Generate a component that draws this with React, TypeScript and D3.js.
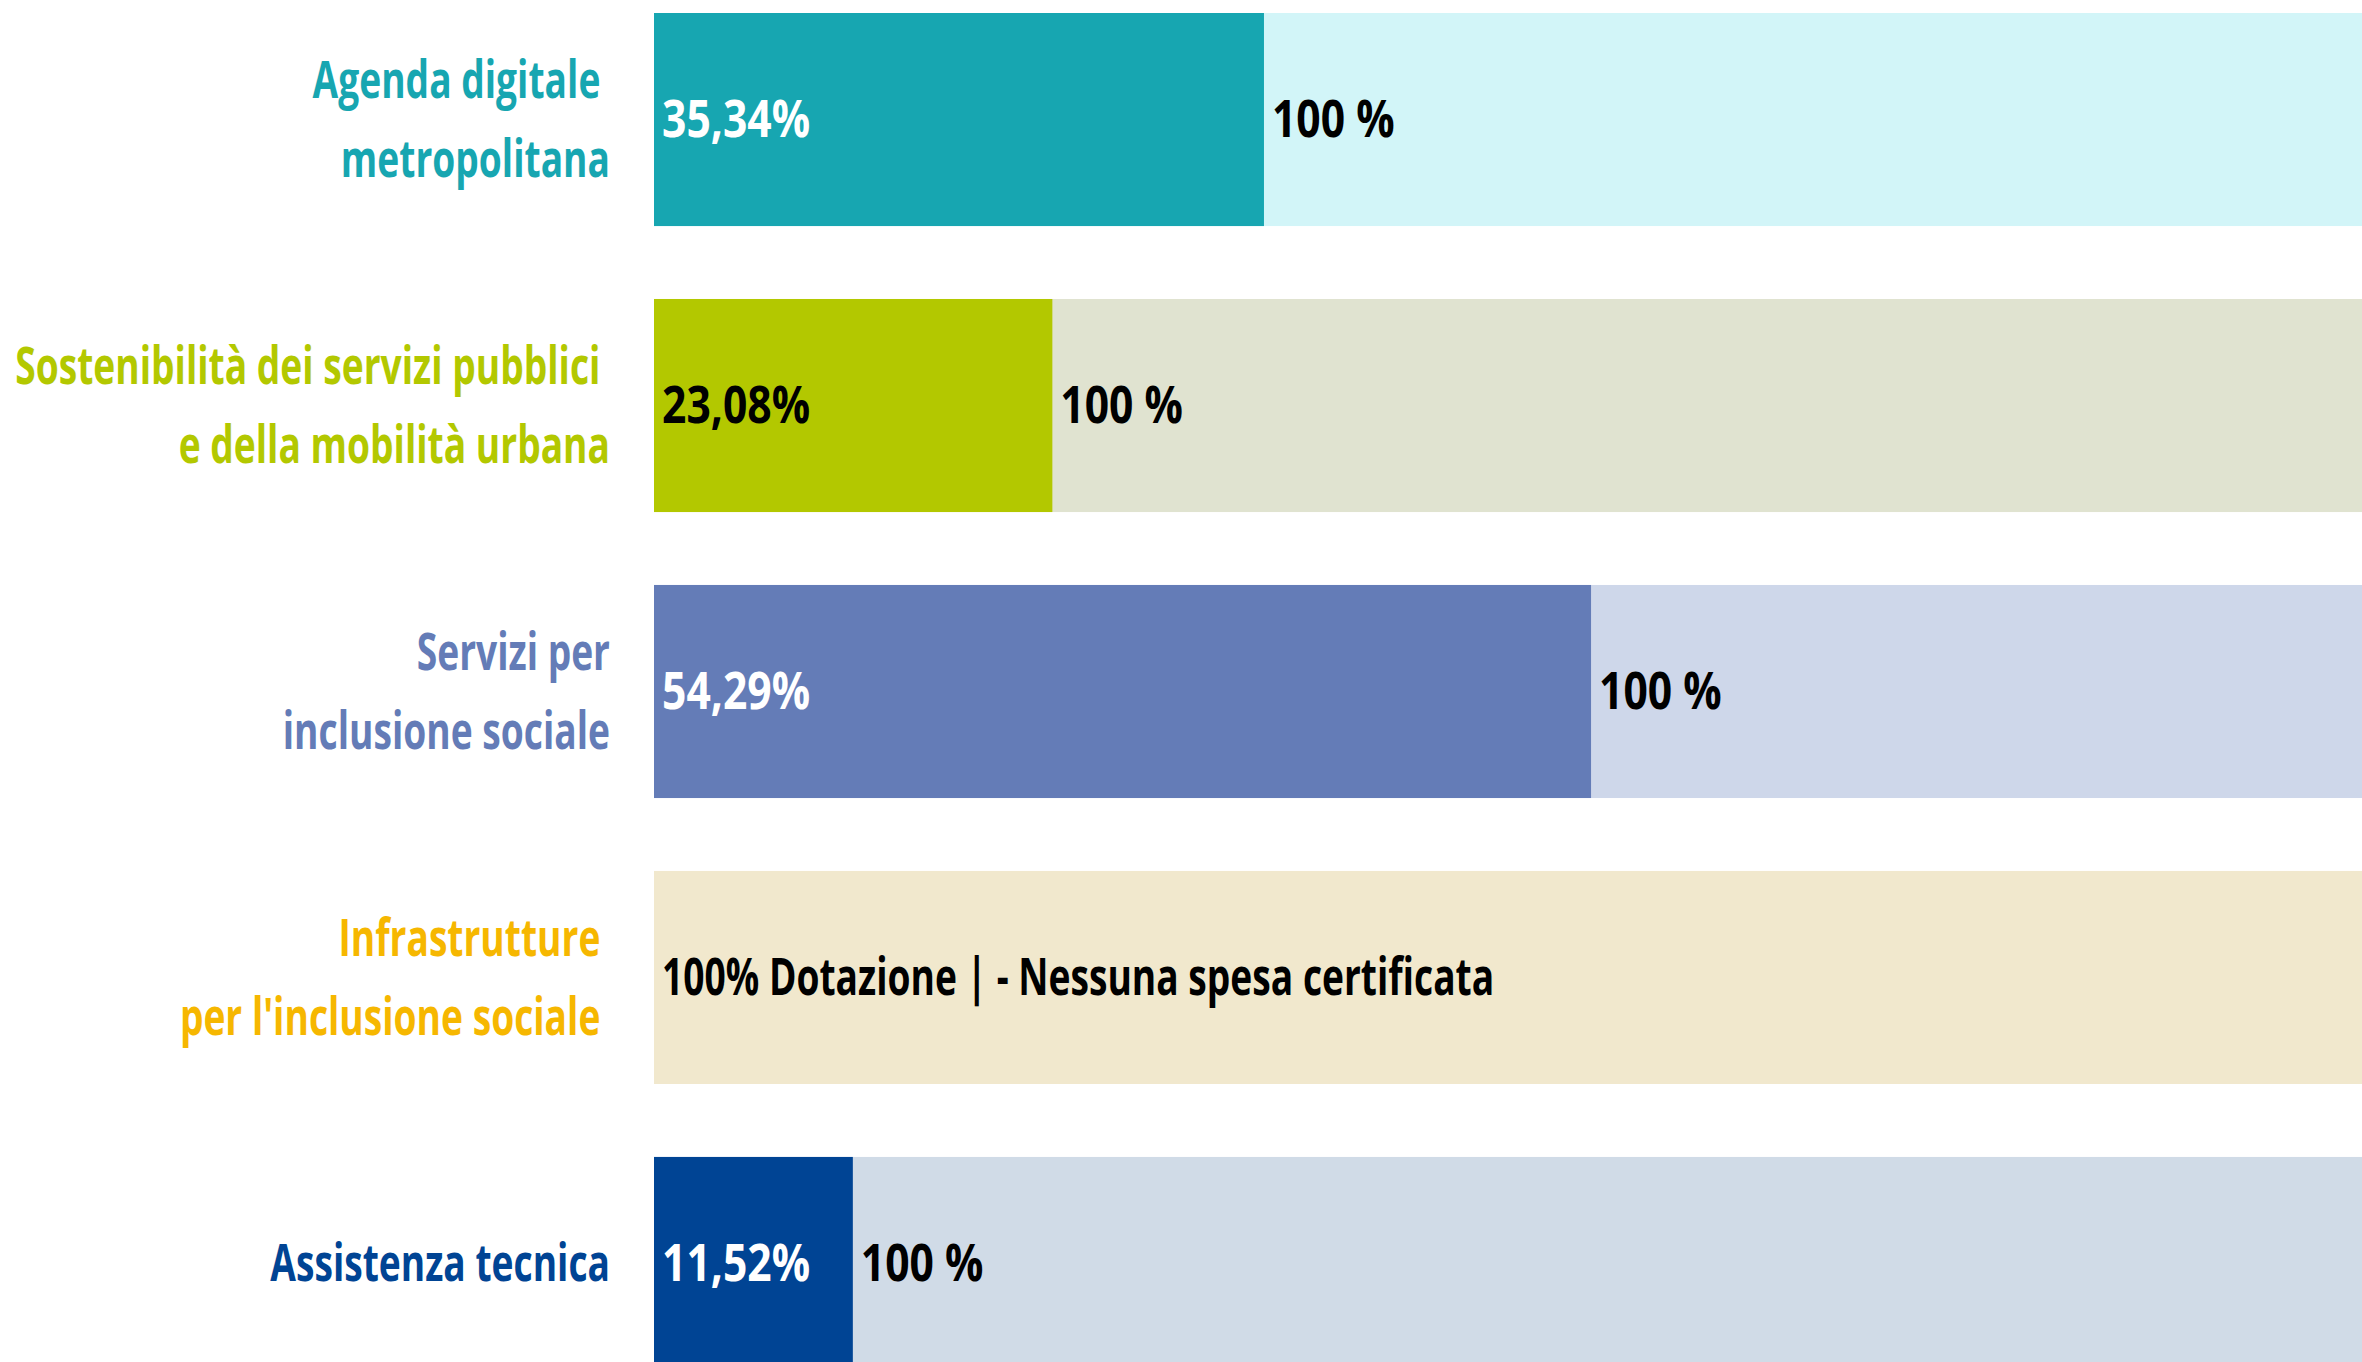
import React from "react";
import * as d3 from "d3";

const categories = [
  "Agenda digitale",
  "Sostenibilità",
  "Servizi inclusione",
  "Infrastrutture inclusione",
  "Assistenza tecnica",
];
const labelLines: string[][] = [
  ["Agenda digitale ", "metropolitana"],
  ["Sostenibilità dei servizi pubblici ", "e della mobilità urbana"],
  ["Servizi per", "inclusione sociale"],
  ["Infrastrutture ", "per l'inclusione sociale "],
  ["Assistenza tecnica"],
];
const spent = [35.34, 23.08, 54.29, 0, 11.52];
const spentLabels = ["35,34%", "23,08%", "54,29%", "", "11,52%"];
const totalLabels = ["100 %", "100 %", "100 %", "100% Dotazione | - Nessuna spesa certificata", "100 %"];
const fillColors = ["#17a6b1", "#b3c800", "#647cb7", "#f5b400", "#004494"];
const bgColors = ["#d2f5f8", "#e0e3d0", "#ced7ea", "#f1e8cd", "#d0dbe7"];
const labelColors = ["#17a6b1", "#b3c800", "#647cb7", "#f6b700", "#004494"];
const spentTextColors = ["#ffffff", "#000000", "#ffffff", "#000000", "#ffffff"];

const W = 2362;
const H = 1362;
const FONT = "'Open Sans', 'DejaVu Sans', sans-serif";

function T(props: {
  x: number;
  y: number;
  fill: string;
  anchor?: string;
  children: string;
}) {
  const numeric = /^[\d,\s%]+$/.test(props.children);
  const sx = numeric ? 0.82 : 0.715;
  return (
    <g transform={`translate(${props.x},${props.y}) scale(${sx},1)`}>
      <text
        x={0}
        y={0}
        dy="0.34em"
        textAnchor={props.anchor || "start"}
        fontSize={52}
        fill={props.fill}
        style={{ whiteSpace: "pre" }}
      >
        {props.children}
      </text>
    </g>
  );
}

export default function App() {
  const x = d3.scaleLinear().domain([0, 100]).range([654, 2380]);
  const y = d3
    .scaleBand<string>()
    .domain(categories)
    .range([13, 1370])
    .paddingInner(0.255)
    .paddingOuter(0);
  const bw = y.bandwidth();
  const lineGap = 79;

  return (
    <svg
      width={W}
      height={H}
      style={{ position: "absolute", left: 0, top: 0, display: "block", background: "#fff" }}
      fontFamily={FONT}
      fontWeight="bold"
    >
      {categories.map((c, i) => {
        const y0 = y(c)!;
        const cy = y0 + bw / 2;
        const xEnd = x(spent[i]);
        const lines = labelLines[i];
        const n = lines.length;
        return (
          <g key={c}>
            <rect x={x(0)} y={y0} width={x(100) - x(0)} height={bw} fill={bgColors[i]} />
            {spent[i] > 0 && (
              <rect x={x(0)} y={y0} width={xEnd - x(0)} height={bw} fill={fillColors[i]} />
            )}
            {spentLabels[i] && (
              <T x={x(0) + 8} y={cy} fill={spentTextColors[i]}>
                {spentLabels[i]}
              </T>
            )}
            <T x={(spent[i] > 0 ? xEnd : x(0)) + 8} y={cy} fill="#000">
              {totalLabels[i]}
            </T>
            {lines.map((ln, k) => (
              <T
                key={k}
                x={610}
                y={cy + (k - (n - 1) / 2) * lineGap}
                anchor="end"
                fill={labelColors[i]}
              >
                {ln}
              </T>
            ))}
          </g>
        );
      })}
    </svg>
  );
}
